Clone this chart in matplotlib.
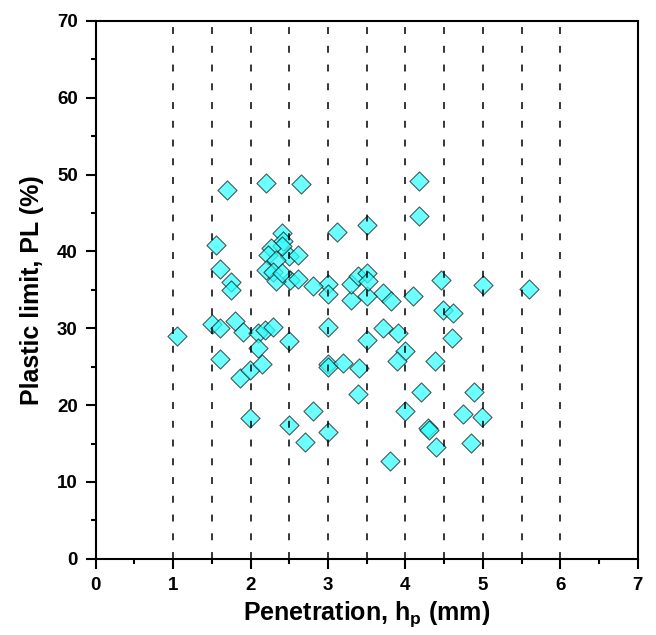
import matplotlib

matplotlib.use("Agg")
import matplotlib.pyplot as plt
from matplotlib.ticker import MultipleLocator

plt.rcParams["font.family"] = ["Liberation Sans", "DejaVu Sans"]
plt.rcParams["font.weight"] = "bold"
plt.rcParams["mathtext.fontset"] = "custom"
plt.rcParams["mathtext.rm"] = "Liberation Sans:bold"
plt.rcParams["lines.scale_dashes"] = False

# penetration h_p (mm) and plastic limit PL (%)
penetration = [
    1.05, 1.69, 2.20, 2.65, 4.18, 4.18, 3.11, 3.50, 1.55, 1.60,
    1.75, 1.75, 1.50, 1.61, 1.80, 1.90, 2.10, 2.19, 2.29, 2.10,
    1.60, 1.86, 1.99, 2.15, 1.99, 2.50, 2.80, 2.70, 3.00, 2.50,
    3.00, 3.00, 3.00, 3.20, 3.40, 3.39, 3.51, 3.71, 3.90, 4.00,
    3.89, 4.38, 4.60, 4.20, 4.00, 4.29, 4.30, 4.40, 4.74, 4.88,
    4.99, 4.85, 3.80, 4.46, 4.49, 4.61, 5.00, 5.60, 4.10, 3.71,
    3.82, 3.50, 3.30, 3.30, 3.39, 3.50, 3.52, 3.00, 3.00, 2.80,
    2.51, 2.61, 2.49, 2.61, 2.40, 2.42, 2.41, 2.27, 2.23, 2.33,
    2.20, 2.29, 2.33, 2.40,
]
plastic_limit = [
    29.0, 48.0, 48.9, 48.8, 49.2, 44.6, 42.5, 43.4, 40.9, 37.7,
    36.0, 35.0, 30.6, 30.0, 30.9, 29.5, 29.4, 29.8, 30.2, 27.4,
    26.0, 23.5, 24.6, 25.3, 18.3, 17.4, 19.2, 15.2, 16.5, 28.3,
    30.2, 25.3, 24.9, 25.5, 24.8, 21.5, 28.5, 30.0, 29.4, 27.0,
    25.7, 25.7, 28.8, 21.7, 19.3, 17.0, 16.7, 14.5, 18.8, 21.7,
    18.5, 15.1, 12.7, 36.3, 32.4, 32.0, 35.6, 35.1, 34.2, 34.6,
    33.5, 34.2, 33.7, 35.7, 36.8, 37.2, 36.1, 35.7, 34.5, 35.5,
    36.3, 36.4, 39.4, 39.6, 42.4, 41.3, 40.7, 40.5, 39.6, 38.9,
    37.6, 37.3, 36.1, 37.2,
]
guide_lines = [1.0, 1.5, 2.0, 2.5, 3.0, 3.5, 4.0, 4.5, 5.0, 5.5, 6.0]

fig = plt.figure(figsize=(6.56, 6.35), dpi=100)
ax = fig.add_axes([0.146, 0.12, 0.826, 0.847])

ax.scatter(
    penetration,
    plastic_limit,
    marker="D",
    s=95,
    facecolor=(0.2, 1.0, 1.0),
    edgecolor="#1a1a1a",
    linewidth=0.8,
    alpha=0.72,
    zorder=2,
)
for x in guide_lines:
    ax.axvline(x, color="black", lw=1.1, dashes=(5, 8.5), zorder=3)

ax.set_xlim(0, 7)
ax.set_ylim(0, 70)
ax.xaxis.set_major_locator(MultipleLocator(1))
ax.xaxis.set_minor_locator(MultipleLocator(0.5))
ax.yaxis.set_major_locator(MultipleLocator(10))
ax.yaxis.set_minor_locator(MultipleLocator(5))

for spine in ax.spines.values():
    spine.set_linewidth(1.5)
ax.tick_params(which="major", direction="out", length=7, width=1.5, labelsize=13.5, pad=6)
ax.tick_params(which="minor", direction="out", length=3.5, width=1.5)

ax.set_xlabel(r"Penetration, h$_\mathrm{p}$ (mm)", fontsize=18, fontweight="bold", labelpad=4)
ax.set_ylabel("Plastic limit, PL (%)", fontsize=18, fontweight="bold", labelpad=9)

fig.savefig("out.png", dpi=100)
